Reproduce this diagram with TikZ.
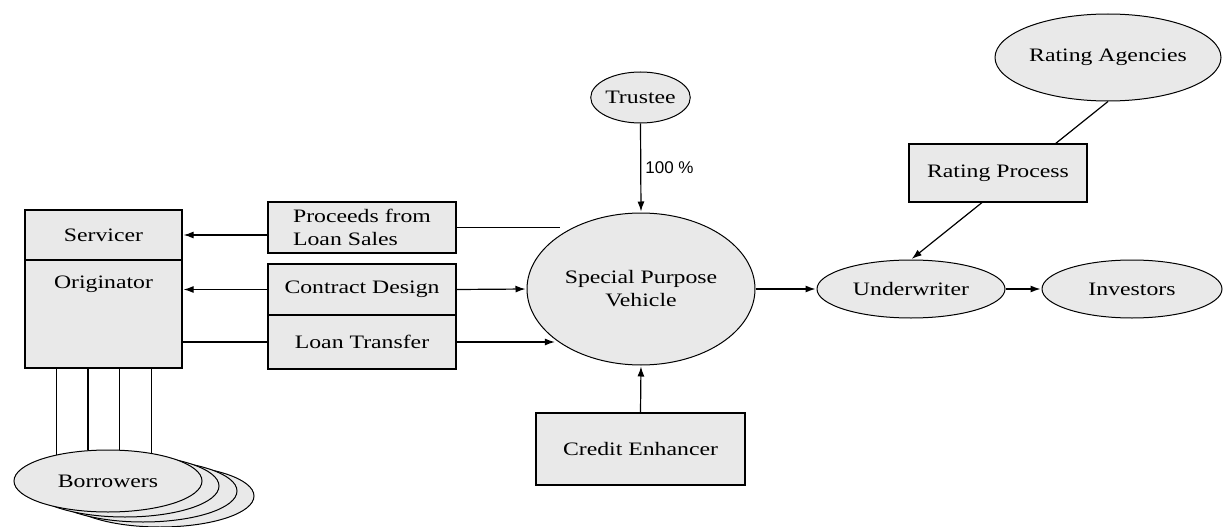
\documentclass[tikz,border=0pt]{standalone}
\usepackage{fontspec}
\setmainfont{Liberation Serif}[FakeStretch=1.25]
\newfontfamily\lblfont{Liberation Sans}
\usetikzlibrary{shapes.geometric,arrows.meta}
\definecolor{boxfill}{RGB}{233,233,233}
\tikzset{
  every node/.style={font=\fontsize{19}{23}\selectfont, inner sep=0pt},
  rbox/.style={draw, fill=boxfill, line width=1.2pt, rectangle},
  ebox/.style={draw, fill=boxfill, line width=1pt, ellipse},
  conn/.style={line width=1.2pt},
  arr/.style={conn, -{Latex[length=10pt,width=7pt]}, shorten >=1pt},
  lbl/.style={font=\lblfont\fontsize{17}{20}\selectfont}
}
\begin{document}
\begin{tikzpicture}[x=1pt,y=-1pt]
\useasboundingbox (0,0) rectangle (1224,527);
% Borrowers stack
\node[ebox, minimum width=188, minimum height=62] (borr3) at (160,496) {};
\node[ebox, minimum width=188, minimum height=62] (borr2) at (143,491) {};
\node[ebox, minimum width=188, minimum height=62] (borr1) at (125,486) {};
\node[ebox, minimum width=188, minimum height=62] (borr) at (108,481) {Borrowers};
% Servicer / Originator
\node[rbox, minimum width=157, minimum height=50] (serv) at (103.5,235) {Servicer};
\node[rbox, minimum width=157, minimum height=108,
      label={[yshift=30pt]center:Originator}] (orig) at (103.5,314) {};
% middle boxes
\node[rbox, minimum width=188, minimum height=51, align=left] (proc) at (362,227.5) {Proceeds from\\Loan Sales};
\node[rbox, minimum width=188, minimum height=51] (cd) at (362,289.5) {Contract Design};
\node[rbox, minimum width=188, minimum height=54] (lt) at (362,342) {Loan Transfer};
% SPV and others
\node[ebox, minimum width=228, minimum height=152, align=center] (spv) at (641,289) {Special Purpose\\Vehicle};
\node[ebox, minimum width=85, minimum height=51] (trustee) at (640.5,97.5) {Trustee};
\node[rbox, minimum width=209, minimum height=72] (ce) at (640.5,449) {Credit Enhancer};
\node[ebox, minimum width=188, minimum height=58] (uw) at (911,289) {Underwriter};
\node[ebox, minimum width=180, minimum height=58] (inv) at (1132,289) {Investors};
\node[ebox, minimum width=226, minimum height=87] (ra) at (1108,57.5) {Rating Agencies};
% connectors
\draw[arr] (serv.east -| proc.west) -- (serv.east);
\draw[conn] (proc.east) -- (proc.east -| spv.146);
\draw[arr] (cd.west) -- (cd.west -| orig.east);
\draw[arr] (cd.east) -- (spv.west);
\draw[conn] (orig.east |- lt.west) -- (lt.west);
\draw[arr] (lt.east) -- (lt.east -| spv.211);
\draw[arr] (trustee.south) -- node[lbl, right=4pt] {100 \%} (spv.north);
\draw[arr] (ce.north) -- (spv.south);
\draw[arr] (spv.east) -- (uw.west);
\draw[arr] (uw.east) -- (inv.west);
\draw[arr] (ra.south) -- (uw.north);
\node[rbox, minimum width=178, minimum height=58] (rp) at (998,173) {Rating Process};
% borrower links
\draw[conn] (borr.153 |- orig.south) -- (borr.153);
\draw[conn] (borr.123 |- orig.south) -- (borr.123);
\draw[conn] (borr.70 |- orig.south) -- (borr.70);
\draw[conn] (borr.33 |- orig.south) -- (borr.33);
\end{tikzpicture}
\end{document}
